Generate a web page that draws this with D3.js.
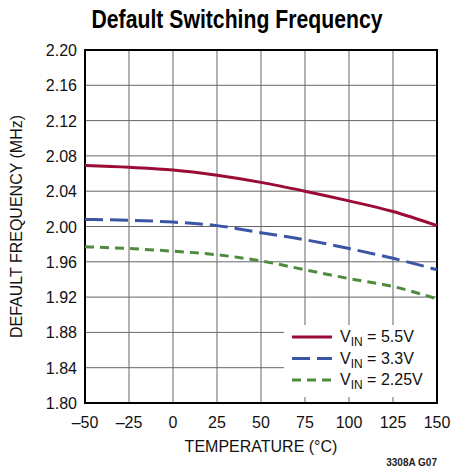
<!DOCTYPE html>
<html>
<head>
<meta charset="utf-8">
<script src="https://cdn.jsdelivr.net/npm/d3@7"></script>
<style>
  body { margin: 0; background: #fff; }
  text { font-family: "Liberation Sans Narrow", "Liberation Sans", Arial, sans-serif; }
</style>
</head>
<body>
<div id="chart"></div>
<script>
const temps = [-50, -25, 0, 25, 50, 75, 100, 125, 150];
const vin55 = [2.069, 2.067, 2.064, 2.058, 2.050, 2.040, 2.029, 2.017, 2.001];
const vin33 = [2.008, 2.007, 2.005, 2.001, 1.993, 1.985, 1.975, 1.964, 1.951];
const vin225 = [1.977, 1.975, 1.972, 1.968, 1.961, 1.951, 1.941, 1.932, 1.918];
const yTicks = [1.80, 1.84, 1.88, 1.92, 1.96, 2.00, 2.04, 2.08, 2.12, 2.16, 2.20];
const seriesNames = ["5.5V", "3.3V", "2.25V"];

const series = [
  { name: seriesNames[0], values: vin55, color: "#9c0b36", dash: null },
  { name: seriesNames[1], values: vin33, color: "#3b55a5", dash: "18,7" },
  { name: seriesNames[2], values: vin225, color: "#4e8b3d", dash: "9,6" }
];

const width = 452, height = 469,
    margin = ({ top: 50, right: 15, bottom: 66, left: 85 });

const svg = d3.select("#chart")
    .append("svg")
    .attr("width", width)
    .attr("height", height);

const x = d3.scaleLinear()
    .domain([-50, 150])
    .range([margin.left, width - margin.right]);

const y = d3.scaleLinear()
    .domain([1.80, 2.20])
    .range([height - margin.bottom, margin.top]);

// grid
svg.append("g")
    .selectAll("line")
    .data(temps)
    .join("line")
    .attr("x1", d => x(d)).attr("x2", d => x(d))
    .attr("y1", y(2.20)).attr("y2", y(1.80))
    .attr("stroke", "#666").attr("stroke-width", 1);

svg.append("g")
    .selectAll("line")
    .data(yTicks)
    .join("line")
    .attr("x1", x(-50)).attr("x2", x(150))
    .attr("y1", d => y(d)).attr("y2", d => y(d))
    .attr("stroke", "#666").attr("stroke-width", 1);

// legend background hides the grid
svg.append("rect")
    .attr("x", 284).attr("y", 325)
    .attr("width", x(150) - 284).attr("height", 72)
    .attr("fill", "#fff");

// frame
svg.append("rect")
    .attr("x", x(-50)).attr("y", y(2.20))
    .attr("width", x(150) - x(-50))
    .attr("height", y(1.80) - y(2.20))
    .attr("fill", "none")
    .attr("stroke", "#000")
    .attr("stroke-width", 2);

// lines
const line = d3.line()
    .x((d, i) => x(temps[i]))
    .y(d => y(d))
    .curve(d3.curveMonotoneX);

svg.append("g")
    .selectAll("path")
    .data(series)
    .join("path")
    .attr("d", d => line(d.values))
    .attr("fill", "none")
    .attr("stroke", d => d.color)
    .attr("stroke-width", 3)
    .attr("stroke-dasharray", d => d.dash);

// axes labels
svg.append("g")
    .selectAll("text")
    .data(yTicks)
    .join("text")
    .attr("x", 77)
    .attr("y", d => y(d) + 6)
    .attr("text-anchor", "end")
    .attr("font-size", 16)
    .attr("fill", "#111")
    .text(d => d3.format(".2f")(d));

svg.append("g")
    .selectAll("text")
    .data(temps)
    .join("text")
    .attr("x", d => x(d))
    .attr("y", 428)
    .attr("text-anchor", "middle")
    .attr("font-size", 16)
    .attr("fill", "#111")
    .text(d => d < 0 ? "\u2013" + Math.abs(d) : d);

svg.append("text")
    .attr("x", x(50))
    .attr("y", 452)
    .attr("text-anchor", "middle")
    .attr("font-size", 16)
    .attr("fill", "#111")
    .text("TEMPERATURE (°C)");

svg.append("text")
    .attr("transform", `translate(22, ${(y(1.80) + y(2.20)) / 2}) rotate(-90)`)
    .attr("text-anchor", "middle")
    .attr("font-size", 16)
    .attr("fill", "#111")
    .text("DEFAULT FREQUENCY (MHz)");

svg.append("text")
    .attr("x", 237)
    .attr("y", 28)
    .attr("text-anchor", "middle")
    .attr("font-size", 25)
    .attr("font-weight", "bold")
    .attr("textLength", 291)
    .attr("lengthAdjust", "spacingAndGlyphs")
    .attr("fill", "#000")
    .text("Default Switching Frequency");

svg.append("text")
    .attr("x", x(150))
    .attr("y", 466)
    .attr("text-anchor", "end")
    .attr("font-size", 10)
    .attr("font-weight", "bold")
    .attr("fill", "#222")
    .text("3308A G07");

// legend
const leg = svg.append("g")
    .selectAll("g")
    .data(series)
    .join("g")
    .attr("transform", (d, i) => `translate(292, ${337 + i * 21.5})`);

leg.append("line")
    .attr("x1", 0).attr("x2", 40)
    .attr("stroke", d => d.color)
    .attr("stroke-width", 3)
    .attr("stroke-dasharray", d => d.dash);

const lt = leg.append("text")
    .attr("x", 48)
    .attr("y", 5)
    .attr("font-size", 16)
    .attr("fill", "#111");
lt.append("tspan").text("V");
lt.append("tspan").attr("font-size", 12).attr("dy", 4).text("IN");
lt.append("tspan").attr("dy", -4).text(d => " = " + d.name);
</script>
</body>
</html>
